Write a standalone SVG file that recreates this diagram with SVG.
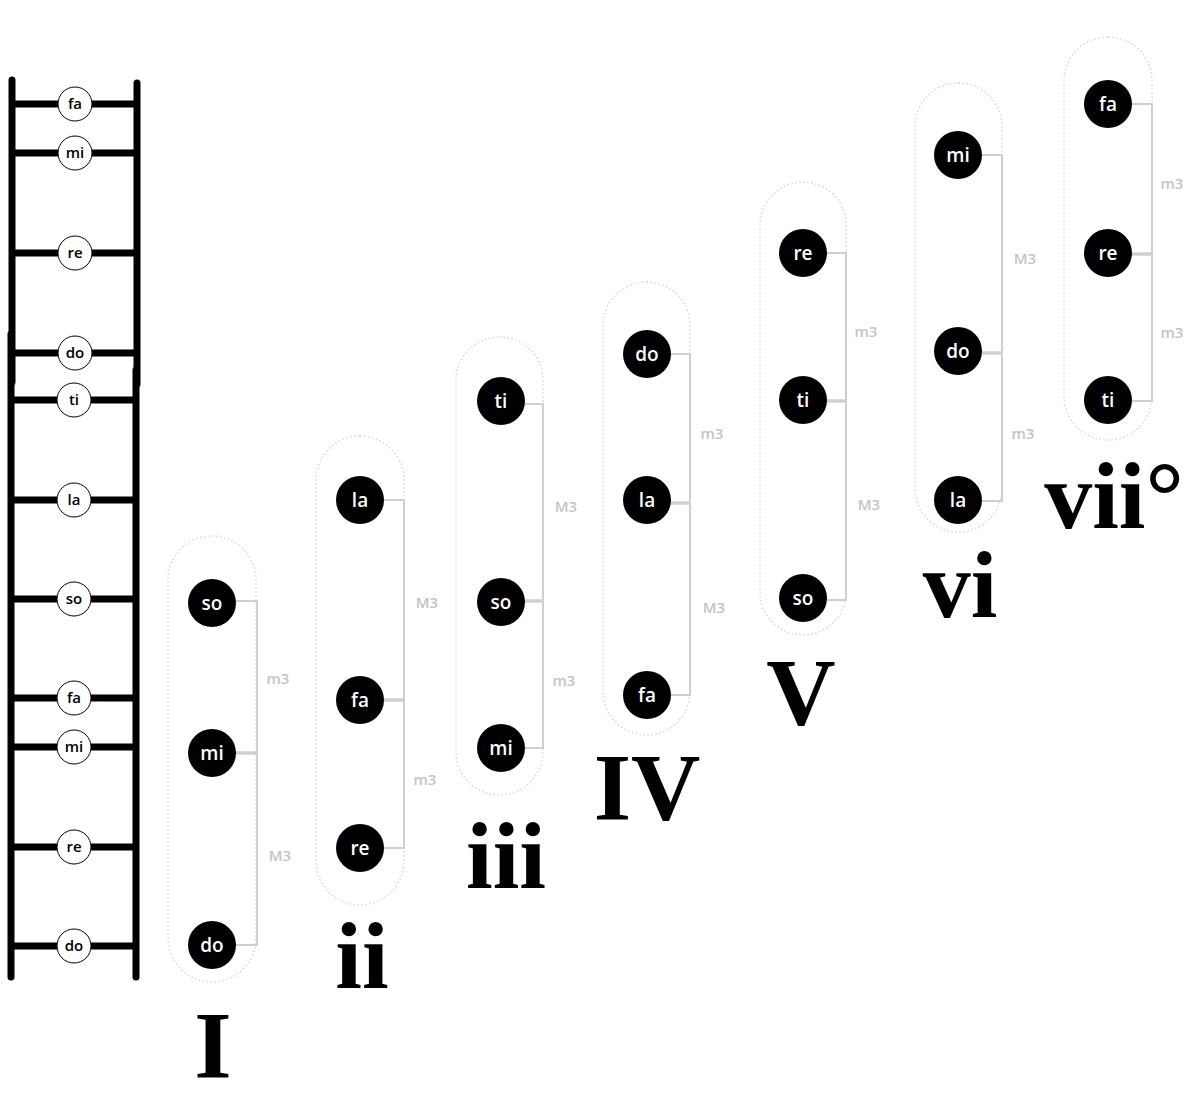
<svg xmlns="http://www.w3.org/2000/svg" width="1200" height="1094" viewBox="0 0 1200 1094">
<style>
.rail{stroke:#000;stroke-width:7;stroke-linecap:round;fill:none}
.rung{stroke:#000;stroke-width:7;fill:none}
.lc{fill:#fff;stroke:#000;stroke-width:1}
.lt{font-family:"Open Sans","Liberation Sans",sans-serif;font-weight:600;font-size:15px;fill:#000;text-anchor:middle}
.pill{fill:none;stroke:#d6d6d6;stroke-width:1.5;stroke-dasharray:1.5 2.5}
.note{fill:#000}
.nt{font-family:"Open Sans","Liberation Sans",sans-serif;font-weight:600;font-size:19px;fill:#fff;text-anchor:middle}
.br{stroke:#cfcfcf;stroke-width:2;fill:none}
.brm{stroke:#cfcfcf;stroke-width:3.5;fill:none}
.il{font-family:"Open Sans","Liberation Sans",sans-serif;font-weight:600;font-size:15px;fill:#c4c4c4;text-anchor:middle}
.rn{font-family:"Liberation Serif","DejaVu Serif",serif;font-weight:bold;font-size:96px;fill:#000;text-anchor:middle}
</style>
<g id="ladder">
<line class="rail" x1="12" y1="80" x2="12" y2="382"/>
<line class="rail" x1="137" y1="83" x2="137" y2="384"/>
<line class="rail" x1="11" y1="334" x2="11" y2="977"/>
<line class="rail" x1="136" y1="370" x2="136" y2="977"/>
<line class="rung" x1="12" y1="104" x2="137" y2="104"/>
<line class="rung" x1="12" y1="153" x2="137" y2="153"/>
<line class="rung" x1="12" y1="253" x2="137" y2="253"/>
<line class="rung" x1="11" y1="353" x2="137" y2="353"/>
<line class="rung" x1="11" y1="400" x2="136" y2="400"/>
<line class="rung" x1="11" y1="500" x2="136" y2="500"/>
<line class="rung" x1="11" y1="599" x2="136" y2="599"/>
<line class="rung" x1="11" y1="698" x2="136" y2="698"/>
<line class="rung" x1="11" y1="747" x2="136" y2="747"/>
<line class="rung" x1="11" y1="847" x2="136" y2="847"/>
<line class="rung" x1="11" y1="946" x2="136" y2="946"/>
<g id="l-fa2"><circle class="lc" cx="75" cy="104" r="17"/><text class="lt" x="75" y="109">fa</text></g>
<g id="l-mi2"><circle class="lc" cx="75" cy="153" r="17"/><text class="lt" x="75" y="158">mi</text></g>
<g id="l-re2"><circle class="lc" cx="75" cy="253" r="17"/><text class="lt" x="75" y="258">re</text></g>
<g id="l-do2"><circle class="lc" cx="75" cy="353" r="17"/><text class="lt" x="75" y="358">do</text></g>
<g id="l-ti"><circle class="lc" cx="74" cy="400" r="17"/><text class="lt" x="74" y="405">ti</text></g>
<g id="l-la"><circle class="lc" cx="74" cy="500" r="17"/><text class="lt" x="74" y="505">la</text></g>
<g id="l-so"><circle class="lc" cx="74" cy="599" r="17"/><text class="lt" x="74" y="604">so</text></g>
<g id="l-fa"><circle class="lc" cx="74" cy="698" r="17"/><text class="lt" x="74" y="703">fa</text></g>
<g id="l-mi"><circle class="lc" cx="74" cy="747" r="17"/><text class="lt" x="74" y="752">mi</text></g>
<g id="l-re"><circle class="lc" cx="74" cy="847" r="17"/><text class="lt" x="74" y="852">re</text></g>
<g id="l-do"><circle class="lc" cx="74" cy="946" r="17"/><text class="lt" x="74" y="951">do</text></g>
</g>

<g id="pills">
<rect class="pill" x="168" y="536" width="88" height="446" rx="44"/>
<rect class="pill" x="316" y="436" width="88" height="469" rx="44"/>
<rect class="pill" x="456" y="337" width="87" height="458" rx="43.5"/>
<rect class="pill" x="603" y="282" width="87" height="453" rx="43.5"/>
<rect class="pill" x="760" y="182" width="86" height="453" rx="43"/>
<rect class="pill" x="915" y="83" width="87" height="449" rx="43.5"/>
<rect class="pill" x="1064" y="37" width="88" height="403" rx="44"/>
</g>

<g id="connectors">
<path class="br" d="M236 601H257V945H236"/>
<line class="brm" x1="236" y1="753" x2="257" y2="753"/>
<path class="br" d="M384 500H404V848H384"/>
<line class="brm" x1="384" y1="700" x2="404" y2="700"/>
<path class="br" d="M525 404H543V748H525"/>
<line class="brm" x1="525" y1="601" x2="543" y2="601"/>
<path class="br" d="M671 354H690V695H671"/>
<line class="brm" x1="671" y1="503" x2="690" y2="503"/>
<path class="br" d="M827 253H846V600H827"/>
<line class="brm" x1="827" y1="401" x2="846" y2="401"/>
<path class="br" d="M982 155H1002V501H982"/>
<line class="brm" x1="982" y1="353" x2="1002" y2="353"/>
<path class="br" d="M1132 104H1152V401H1132"/>
<line class="brm" x1="1132" y1="254" x2="1152" y2="254"/>
<text class="il" x="278" y="684">m3</text>
<text class="il" x="280" y="861">M3</text>
<text class="il" x="427" y="608">M3</text>
<text class="il" x="425" y="785">m3</text>
<text class="il" x="566" y="512">M3</text>
<text class="il" x="564" y="686">m3</text>
<text class="il" x="712" y="439">m3</text>
<text class="il" x="714" y="613">M3</text>
<text class="il" x="866" y="337">m3</text>
<text class="il" x="869" y="510">M3</text>
<text class="il" x="1025" y="264">M3</text>
<text class="il" x="1023" y="439">m3</text>
<text class="il" x="1172" y="189">m3</text>
<text class="il" x="1172" y="338">m3</text>
</g>

<g id="chord-I">
<circle class="note" cx="212" cy="603" r="24"/><text class="nt" x="212" y="610">so</text>
<circle class="note" cx="212" cy="753" r="24"/><text class="nt" x="212" y="760">mi</text>
<circle class="note" cx="212" cy="945" r="24"/><text class="nt" x="212" y="952">do</text>
<text class="rn" x="213" y="1078">I</text>
</g>
<g id="chord-ii">
<circle class="note" cx="360" cy="500" r="24"/><text class="nt" x="360" y="507">la</text>
<circle class="note" cx="360" cy="700" r="24"/><text class="nt" x="360" y="707">fa</text>
<circle class="note" cx="360" cy="848" r="24"/><text class="nt" x="360" y="855">re</text>
<text class="rn" x="362" y="988">ii</text>
</g>
<g id="chord-iii">
<circle class="note" cx="501" cy="401" r="24"/><text class="nt" x="501" y="408">ti</text>
<circle class="note" cx="501" cy="602" r="24"/><text class="nt" x="501" y="609">so</text>
<circle class="note" cx="501" cy="748" r="24"/><text class="nt" x="501" y="755">mi</text>
<text class="rn" x="506" y="888">iii</text>
</g>
<g id="chord-IV">
<circle class="note" cx="647" cy="354" r="24"/><text class="nt" x="647" y="361">do</text>
<circle class="note" cx="647" cy="500" r="24"/><text class="nt" x="647" y="507">la</text>
<circle class="note" cx="647" cy="695" r="24"/><text class="nt" x="647" y="702">fa</text>
<text class="rn" x="647" y="820">IV</text>
</g>
<g id="chord-V">
<circle class="note" cx="803" cy="253" r="24"/><text class="nt" x="803" y="260">re</text>
<circle class="note" cx="803" cy="400" r="24"/><text class="nt" x="803" y="407">ti</text>
<circle class="note" cx="803" cy="598" r="24"/><text class="nt" x="803" y="605">so</text>
<text class="rn" x="801" y="725">V</text>
</g>
<g id="chord-vi">
<circle class="note" cx="958" cy="155" r="24"/><text class="nt" x="958" y="162">mi</text>
<circle class="note" cx="958" cy="351" r="24"/><text class="nt" x="958" y="358">do</text>
<circle class="note" cx="958" cy="500" r="24"/><text class="nt" x="958" y="507">la</text>
<text class="rn" x="960" y="617">vi</text>
</g>
<g id="chord-vii">
<circle class="note" cx="1108" cy="104" r="24"/><text class="nt" x="1108" y="111">fa</text>
<circle class="note" cx="1108" cy="253" r="24"/><text class="nt" x="1108" y="260">re</text>
<circle class="note" cx="1108" cy="400" r="24"/><text class="nt" x="1108" y="407">ti</text>
<text class="rn" x="1114" y="528">vii°</text>
</g>
</svg>
